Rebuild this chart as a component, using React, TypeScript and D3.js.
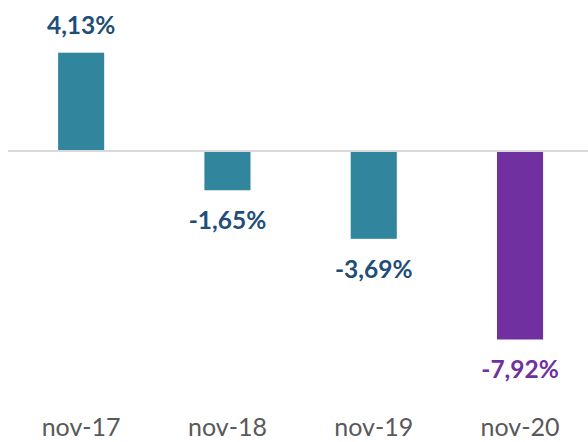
import React from "react";
import * as d3 from "d3";

const categories = ["nov-17", "nov-18", "nov-19", "nov-20"];
const values = [4.13, -1.65, -3.69, -7.92];
const valueLabels = ["4,13%", "-1,65%", "-3,69%", "-7,92%"];
const highlight = [false, false, false, true];

const W = 588;
const H = 442;

export default function App() {
  const x = d3.scaleBand<string>().domain(categories).range([8, 593.2]).padding(0);
  const y = d3.scaleLinear().domain([-8, 5]).range([341.4, 32]);
  const bw = x.step() * 0.315;
  const font = "Lato, 'Open Sans', sans-serif";
  return (
    <svg
      width={W}
      height={H}
      style={{ position: "absolute", left: 0, top: 0, background: "#fff" }}
    >
      {values.map((v, i) => {
        const cx = (x(categories[i]) as number) + x.bandwidth() / 2;
        const y0 = y(0);
        const yv = y(v);
        return (
          <rect
            key={i}
            x={cx - bw / 2}
            y={Math.min(y0, yv)}
            width={bw}
            height={Math.abs(yv - y0)}
            fill={highlight[i] ? "#7030A0" : "#31859C"}
          />
        );
      })}
      <line x1={8} x2={W} y1={y(0)} y2={y(0)} stroke="#D9D9D9" strokeWidth={2} />
      {values.map((v, i) => {
        const cx = (x(categories[i]) as number) + x.bandwidth() / 2;
        const ty = v >= 0 ? y(v) - 19 : y(v) + 39;
        return (
          <text
            key={"l" + i}
            x={cx}
            y={ty}
            textAnchor="middle"
            fontFamily={font}
            fontWeight={700}
            fontSize={24.5}
            fill={highlight[i] ? "#7030A0" : "#1F4E79"}
          >
            {valueLabels[i]}
          </text>
        );
      })}
      {categories.map((c, i) => {
        const cx = (x(c) as number) + x.bandwidth() / 2;
        return (
          <text
            key={"c" + i}
            x={cx}
            y={436}
            textAnchor="middle"
            fontFamily={font}
            fontSize={25}
            fill="#595959"
          >
            {c}
          </text>
        );
      })}
    </svg>
  );
}
